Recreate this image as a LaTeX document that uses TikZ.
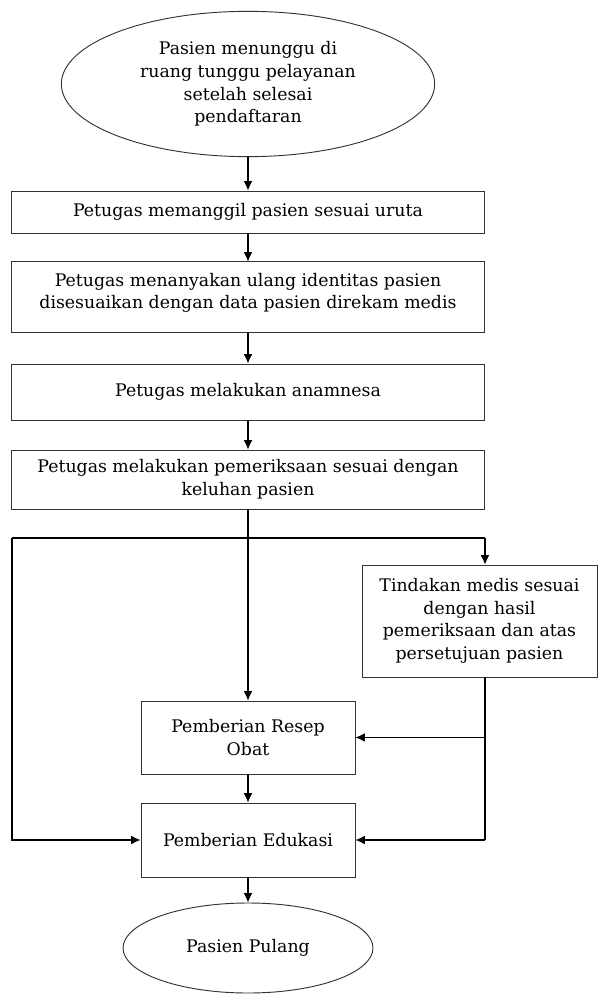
\documentclass[tikz,border=0pt]{standalone}
\usepackage{fontspec}
\setmainfont{DejaVu Serif}
\usetikzlibrary{shapes,arrows,arrows.meta,positioning}

\begin{document}
\begin{tikzpicture}[
    box/.style={rectangle, draw=black!80, line width=0.7pt, minimum width=354.75pt, align=center, inner sep=2pt, font=\fontsize{13}{17}\selectfont},
    oval/.style={ellipse, draw=black!80, line width=0.7pt, align=center, inner sep=0pt, font=\fontsize{13}{17}\selectfont},
    arr/.style={->, line width=0.8pt},
    >={Latex[length=7pt,width=6.5pt]}
]
    \useasboundingbox (0,0) rectangle (448.5pt,-745.5pt);

    % Main flow, top to bottom
    \node[oval, minimum width=280pt, minimum height=109pt] (wait) at (186pt,-63pt) {Pasien menunggu di\\ ruang tunggu pelayanan\\ setelah selesai\\ pendaftaran};
    \node[box, minimum height=31.5pt, below of=wait, node distance=96pt] (call) {Petugas memanggil pasien sesuai uruta};
    \node[box, minimum height=53.25pt, below of=call, node distance=64.1pt] (ident) {Petugas menanyakan ulang identitas pasien\\ disesuaikan dengan data pasien direkam medis\\[-7pt]};
    \node[box, minimum height=42pt, below of=ident, node distance=70.9pt] (anam) {Petugas melakukan anamnesa};
    \node[box, minimum height=44.25pt, below of=anam, node distance=65.6pt] (exam) {Petugas melakukan pemeriksaan sesuai dengan\\ keluhan pasien};
    \node[box, minimum width=160.5pt, minimum height=54.75pt, below of=exam, node distance=193.5pt] (resep) {Pemberian Resep\\ Obat};
    \node[box, minimum width=160.5pt, minimum height=55.5pt, below of=resep, node distance=76.9pt] (edu) {Pemberian Edukasi};
    \node[oval, minimum width=187.5pt, minimum height=67.5pt, below of=edu, node distance=81pt] (home) {Pasien Pulang};

    % Side branch
    \node[box, minimum width=176.25pt, minimum height=84pt] (act) at (359.6pt,-465.75pt) {Tindakan medis sesuai\\ dengan hasil\\ pemeriksaan dan atas\\ persetujuan pasien};

    \coordinate (lft) at (9pt,-403.5pt);
    \coordinate (rgt) at (exam.east |- lft);

    % Connect nodes with arrows
    \draw[arr] (wait) -- (call);
    \draw[arr] (call) -- (ident);
    \draw[arr] (ident) -- (anam);
    \draw[arr] (anam) -- (exam);
    \draw[arr] (exam) -- (resep);
    \draw[arr] (resep) -- (edu);
    \draw[arr] (edu) -- (home);
    \draw[line width=0.8pt] (lft) -- (rgt);
    \draw[arr] (rgt) -- (rgt |- act.north);
    \draw[arr] (lft) |- (edu.west);
    \draw[line width=0.8pt] (rgt |- act.south) -- (rgt |- edu.east);
    \draw[arr] (rgt |- resep.east) -- (resep.east);
    \draw[arr] (rgt |- edu.east) -- (edu.east);
\end{tikzpicture}
\end{document}
